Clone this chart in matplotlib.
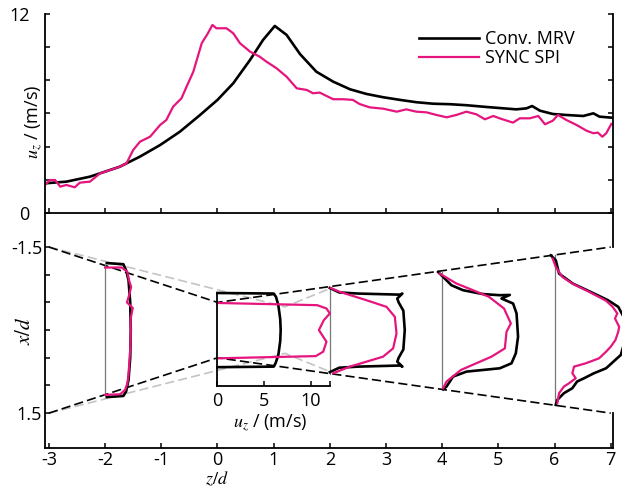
import numpy as np
import matplotlib
matplotlib.use('Agg')
import matplotlib.pyplot as plt

plt.rcParams['font.family'] = ['Open Sans', 'DejaVu Sans']
plt.rcParams['mathtext.fontset'] = 'stix'
FS = 13

BLACK = '#000000'
MAG = '#e5157d'
GRAYLINE = '#777777'
GRAYDASH = '#c4c4c4'

# ---------------- top panel data: centreline velocity ----------------
mrv_z = [-3.07, -2.69, -2.27, -1.74, -1.38, -1.02, -0.67, -0.31, 0.0, 0.28, 0.58, 0.81, 1.02,
         1.23, 1.47, 1.76, 2.06, 2.36, 2.65, 2.95, 3.25, 3.54, 3.84, 4.14, 4.43, 4.73, 5.02,
         5.32, 5.50, 5.60, 5.74, 5.97, 6.21, 6.51, 6.69, 6.80, 7.01]
mrv_u = [1.79, 1.89, 2.19, 2.79, 3.40, 4.10, 4.90, 5.91, 6.82, 7.82, 9.23, 10.43, 11.28,
         10.74, 9.58, 8.52, 7.92, 7.46, 7.18, 6.98, 6.82, 6.68, 6.59, 6.56, 6.50, 6.41, 6.33,
         6.25, 6.31, 6.45, 6.17, 5.97, 5.91, 5.85, 6.01, 5.81, 5.75]

spi_z = [-3.07, -2.98, -2.89, -2.80, -2.69, -2.54, -2.45, -2.27, -2.09, -1.91, -1.74, -1.62,
         -1.50, -1.38, -1.20, -1.02, -0.91, -0.79, -0.64, -0.55, -0.43, -0.28, -0.17, -0.09,
         -0.02, 0.16, 0.28, 0.40, 0.58, 0.75, 0.87, 1.05, 1.23, 1.41, 1.59, 1.70, 1.82, 2.06,
         2.24, 2.41, 2.53, 2.71, 2.95, 3.19, 3.36, 3.54, 3.72, 3.90, 4.08, 4.25, 4.43, 4.61,
         4.76, 4.91, 5.02, 5.26, 5.38, 5.56, 5.71, 5.83, 5.97, 6.06, 6.21, 6.39, 6.57, 6.69,
         6.77, 6.85, 6.92, 7.01]
spi_u = [1.69, 1.99, 1.99, 1.59, 1.69, 1.55, 1.83, 1.89, 2.39, 2.59, 2.79, 2.99,
         3.80, 4.30, 4.60, 5.31, 5.61, 6.41, 6.92, 7.62, 8.52, 10.24, 10.84, 11.34,
         11.14, 11.14, 10.84, 10.24, 9.73, 9.43, 9.13, 8.73, 8.22, 7.52, 7.42, 7.22, 7.26, 6.86,
         6.86, 6.82, 6.57, 6.37, 6.29, 6.11, 6.25, 6.11, 6.07, 5.91, 5.77, 5.91, 6.11, 5.95,
         5.65, 5.85, 5.71, 5.45, 5.71, 5.71, 5.85, 5.35, 5.57, 5.91, 5.61, 5.31, 4.96, 4.81,
         4.85, 4.60, 4.81, 5.37]

# ---------------- bottom panel data: radial profiles ----------------
stations = [-2, 0, 2, 4, 6]
mrv_prof = {
    -2: ([-1.21, -1.19, -1.08, -0.90, -0.50, 0.00, 0.50, 0.90, 1.11, 1.19, 1.21],
         [0.18, 1.95, 2.24, 2.50, 2.68, 2.74, 2.68, 2.50, 2.24, 1.95, 0.18]),
    0: ([-0.67, -0.66, -0.60, -0.45, -0.20, 0.00, 0.20, 0.45, 0.60, 0.66, 0.67],
        [0.0, 6.0, 6.25, 6.5, 6.7, 6.75, 6.7, 6.5, 6.2, 6.0, 0.0]),
    2: ([-0.76, -0.68, -0.66, -0.64, -0.66, -0.57, -0.50, -0.35, 0.00, 0.35, 0.50, 0.57,
         0.66, 0.64, 0.66, 0.68, 0.76],
        [0.0, 1.0, 3.0, 7.5, 7.75, 7.2, 7.35, 7.85, 8.0, 7.85, 7.35, 7.2,
         7.75, 7.5, 3.0, 1.0, 0.0]),
    4: ([-1.05, -0.96, -0.81, -0.72, -0.65, -0.63, -0.635, -0.57, -0.48, -0.30, 0.12, 0.42,
         0.60, 0.69, 0.75, 0.84, 1.02, 1.07],
        [-0.44, 0.1, 0.99, 2.23, 4.37, 6.15, 7.22, 6.33, 7.57, 7.94, 8.1, 7.86,
         7.4, 6.15, 2.6, 1.16, 0.46, 0.1]),
    6: ([-1.35, -1.26, -1.02, -0.84, -0.69, -0.54, -0.42, -0.20, 0.00, 0.20, 0.45, 0.69,
         0.78, 0.87, 0.93, 1.05, 1.14, 1.26, 1.35],
        [-0.4, 0.13, 0.48, 1.95, 3.85, 5.7, 6.8, 7.5, 7.7, 7.5, 7.07, 5.5,
         4.2, 3.15, 2.4, 1.9, 1.0, 0.3, 0.13]),
}
spi_prof = {
    -2: ([-1.13, -1.13, -1.05, -0.90, -0.78, -0.62, -0.50, -0.40, -0.20, 0.05, 0.30, 0.55,
          0.80, 0.96, 1.08, 1.16, 1.17],
         [0.0, 1.78, 2.38, 2.55, 2.78, 2.55, 2.33, 2.95, 2.72, 2.74, 2.70, 2.60,
          2.50, 2.38, 2.14, 1.60, 0.0]),
    0: ([-0.49, -0.45, -0.39, -0.30, -0.18, 0.00, 0.21, 0.39, 0.47, 0.51],
        [0.0, 10.65, 11.64, 12.0, 11.36, 10.83, 11.64, 11.29, 10.5, 0.0]),
    2: ([-0.76, -0.69, -0.54, -0.42, -0.24, 0.06, 0.33, 0.48, 0.57, 0.66, 0.78],
        [0.1, 1.07, 3.9, 6.05, 6.94, 7.12, 6.76, 5.69, 3.92, 2.14, 0.35]),
    4: ([-1.02, -0.84, -0.72, -0.60, -0.39, -0.12, 0.03, 0.33, 0.48, 0.72, 0.93, 1.05],
        [-0.26, 1.53, 3.3, 5.0, 6.6, 7.33, 6.87, 6.69, 5.27, 2.0, 0.46, 0.1]),
    6: ([-1.29, -1.14, -0.96, -0.84, -0.69, -0.53, -0.42, -0.30, -0.21, -0.06, 0.03, 0.18,
         0.30, 0.39, 0.51, 0.60, 0.66, 0.78, 0.87, 0.96, 1.02, 1.14, 1.32],
        [-0.2, 0.13, 0.83, 1.9, 3.7, 5.5, 6.2, 6.7, 6.45, 6.9, 6.8, 6.5,
         6.0, 5.5, 4.75, 3.33, 2.08, 1.9, 2.26, 1.55, 1.0, 0.48, 0.3]),
}
# nozzle outlines
cone_z = [-3.0, 0.0, 7.0]
cone_r = [1.5, 0.5, 1.5]
gray_z = [-3.0, 1.2, 2.0]
gray_r = [1.5, 0.42, 0.75]

top_yticks = [0, 2, 4, 6, 8, 10, 12]
top_ylabels = ['0', '', '', '', '', '', '12']
zticks = [-3, -2, -1, 0, 1, 2, 3, 4, 5, 6, 7]
xd_ticks = [-1.5, -1.0, -0.5, 0.0, 0.5, 1.0, 1.5]
xd_labels = ['-1.5', '', '', '', '', '', '1.5']
inset_ticks = [0, 5, 10]

SCALE = 1.0 / 6.0   # z/d units per m/s for profiles
XL = (-3.07, 7.04)
YL = (2.13, -2.115)

fig = plt.figure(figsize=(6.22, 4.9), dpi=100)
ax1 = fig.add_axes([45/622, 1-213/490, 568/622, 199/490])
ax2 = fig.add_axes([45/622, 1-448/490, 568/622, 235/490])
for a in (ax1, ax2):
    a.patch.set_alpha(0)
    for s in a.spines.values():
        s.set_linewidth(1.3)

# ---- top panel ----
ax1.plot(mrv_z, mrv_u, color=BLACK, lw=1.9, label='Conv. MRV')
ax1.plot(spi_z, spi_u, color=MAG, lw=1.6, label='SYNC SPI')
ax1.set_xlim(*XL)
ax1.set_ylim(0, 12)
ax1.spines['top'].set_visible(False)
ax1.set_yticks(top_yticks)
ax1.set_yticklabels(top_ylabels)
ax1.set_xticks(zticks)
ax1.set_xticklabels([])
ax1.tick_params(axis='both', direction='in', length=3.8, width=1.1, labelsize=FS,
                right=True, top=False)
ax1.tick_params(axis='y', pad=11)
ax1.set_ylabel(r'$u_z$ / (m/s)', fontsize=FS)
ax1.yaxis.set_label_coords(-0.019, 0.46)
ax1.yaxis.label.set_va('center')
ax1.legend(frameon=False, loc='upper left', bbox_to_anchor=(0.659, 0.918),
           borderpad=0, borderaxespad=0, handlelength=3.3, handletextpad=0.35,
           labelspacing=0.05, fontsize=FS)

# ---- bottom panel ----
ax2.set_xlim(*XL)
ax2.set_ylim(*YL)
ax2.spines['top'].set_visible(False)
ax2.spines['right'].set_visible(False)
cz = np.array(cone_z); cr = np.array(cone_r)
gz = np.array(gray_z); gr = np.array(gray_r)
for sgn in (-1, 1):
    ax2.plot(gz, sgn * gr, color=GRAYDASH, lw=1.2, dashes=(5.5, 2.5), zorder=1)
    ax2.plot(cz, sgn * cr, color=BLACK, lw=1.2, dashes=(5.5, 2.5), zorder=2)
# partial right spine outside the nozzle cone
tr = ax2.get_yaxis_transform()
ax2.plot([1, 1], [YL[1], -cr[-1]], transform=tr, color=BLACK, lw=1.3, clip_on=False)
ax2.plot([1, 1], [cr[-1], YL[0]], transform=tr, color=BLACK, lw=1.3, clip_on=False)

for st in stations:
    if st == 0:
        continue
    r = np.interp(st, cz, cr)
    ax2.plot([st, st], [-r, r], color=GRAYLINE, lw=0.9, zorder=3)
    bx, bu = mrv_prof[st]
    ax2.plot(st + np.array(bu) * SCALE, bx, color=BLACK, lw=1.9, zorder=4, clip_on=False)
    mx, mu = spi_prof[st]
    ax2.plot(st + np.array(mu) * SCALE, mx, color=MAG, lw=1.6, zorder=5, clip_on=False)

ax2.set_xticks(zticks)
ax2.set_xticklabels([str(t) for t in zticks])
ax2.set_yticks(xd_ticks)
ax2.set_yticklabels(xd_labels)
ax2.tick_params(axis='both', direction='in', length=3.8, width=1.1, labelsize=FS)
ax2.tick_params(axis='x', pad=2)
ax2.tick_params(axis='y', pad=2)
ax2.set_xlabel(r'$z/d$', fontsize=FS)
ax2.xaxis.set_label_coords(0.303, -0.131)
ax2.xaxis.label.set_va('center')
ax2.set_ylabel(r'$x/d$', fontsize=FS + 2)
ax2.yaxis.set_label_coords(-0.036, 0.498)
ax2.yaxis.label.set_va('center')

# ---- inset at z/d = 0 ----
in_u_max = 12.0
in_top = -0.67
in_bot = 1.01
fx0 = (0 - XL[0]) / (XL[1] - XL[0])
fx1 = (in_u_max * SCALE - XL[0]) / (XL[1] - XL[0])
fyb = (YL[0] - in_bot) / (YL[0] - YL[1])
fyt = (YL[0] - in_top) / (YL[0] - YL[1])
axi = ax2.inset_axes([fx0, fyb, fx1 - fx0, fyt - fyb])
axi.patch.set_alpha(0)
axi.set_xlim(0, in_u_max)
axi.set_ylim(in_bot, in_top)
bx, bu = mrv_prof[0]
axi.plot(bu, bx, color=BLACK, lw=1.9, clip_on=False)
mx, mu = spi_prof[0]
axi.plot(mu, mx, color=MAG, lw=1.6, clip_on=False)
axi.spines['top'].set_visible(False)
axi.spines['right'].set_visible(False)
for s in ('left', 'bottom'):
    axi.spines[s].set_linewidth(1.3)
axi.set_xticks(inset_ticks)
axi.set_xticks([in_u_max], minor=True)
axi.set_yticks([])
axi.tick_params(axis='x', which='both', direction='in', length=3.8, width=1.1,
                labelsize=FS, pad=4)
axi.set_xlabel(r'$u_z$ / (m/s)', fontsize=FS)
axi.xaxis.set_label_coords(0.47, -0.40)
axi.xaxis.label.set_va('center')

fig.savefig('out.png', dpi=100)
